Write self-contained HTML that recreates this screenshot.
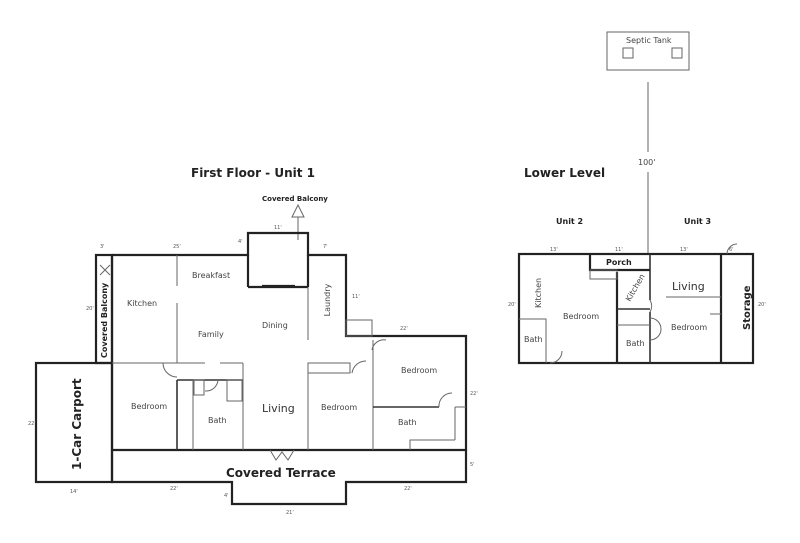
<!DOCTYPE html>
<html><head><style>
html,body{margin:0;padding:0;background:#fff;}
svg{display:block;font-family:"DejaVu Sans","Liberation Sans",sans-serif;}
.t{stroke:#222;stroke-width:2.2;fill:none;}
.m{stroke:#333;stroke-width:1.6;fill:none;}
.n{stroke:#666;stroke-width:1;fill:none;}
.s{font-size:8px;fill:#444;}
.d{font-size:5px;fill:#555;}
</style></head><body>
<svg width="800" height="543" viewBox="0 0 800 543">
<text x="191" y="177" font-size="12" font-weight="bold" fill="#222">First Floor - Unit 1</text>
<text x="524" y="177" font-size="12" font-weight="bold" fill="#222">Lower Level</text>
<text x="262" y="201" font-size="7" font-weight="bold" fill="#222">Covered Balcony</text>
<polygon points="298,205 292,217 304,217" class="n"/>
<line x1="298" y1="217" x2="298" y2="240" class="n"/>
<polyline class="t" points="112,255 248,255 248,233 308,233 308,255 346,255 346,336 466,336 466,450 112,450 112,255"/>
<line x1="248" y1="287" x2="308" y2="287" class="t"/>
<line x1="248" y1="255" x2="248" y2="287" class="t"/>
<line x1="308" y1="255" x2="308" y2="287" class="t"/>
<polyline class="t" points="112,450 112,482 232,482 232,504 346,504 346,482 466,482 466,450"/>
<rect x="36" y="363" width="76" height="119" class="t"/>
<rect x="96" y="255" width="16" height="108" class="t"/>
<line x1="177" y1="255" x2="177" y2="286" class="n"/>
<line x1="177" y1="303" x2="177" y2="363" class="n"/>
<line x1="112" y1="363" x2="205" y2="363" class="n"/>
<line x1="220" y1="363" x2="243" y2="363" class="n"/>
<line x1="177" y1="380" x2="177" y2="450" class="m"/>
<line x1="177" y1="380" x2="243" y2="380" class="m"/>
<line x1="193" y1="380" x2="193" y2="450" class="n"/>
<line x1="243" y1="363" x2="243" y2="450" class="n"/>
<rect x="194" y="380" width="10" height="15" class="n"/>
<rect x="227" y="380" width="15" height="21" class="n"/>
<path d="M163,363 A14,14 0 0 0 177,377" class="n"/>
<path d="M205,391 A12,12 0 0 0 218,380" class="n"/>
<line x1="308" y1="287" x2="308" y2="340" class="n"/>
<line x1="308" y1="363" x2="308" y2="450" class="n"/>
<rect x="308" y="363" width="42" height="10" class="n"/>
<path d="M352,373 A14,14 0 0 1 366,361" class="n"/>
<line x1="373" y1="340" x2="373" y2="450" class="n"/>
<path d="M372,350 A12,12 0 0 1 386,340" class="n"/>
<line x1="373" y1="407" x2="439" y2="407" class="m"/>
<line x1="455" y1="407" x2="466" y2="407" class="n"/>
<line x1="455" y1="407" x2="455" y2="440" class="n"/>
<polyline class="n" points="410,450 410,440 455,440"/>
<path d="M439,407 A13,13 0 0 1 452,393" class="n"/>
<rect x="346" y="320" width="26" height="16" class="n"/>
<path d="M270,450 L276,460 L282,452 L288,460 L294,450" class="n"/>
<line x1="262" y1="286" x2="295" y2="286" class="t"/>
<path d="M100,265 L110,275 M100,275 L110,265" class="n"/>
<text x="127" y="306" class="s">Kitchen</text>
<text x="192" y="278" class="s">Breakfast</text>
<text x="198" y="337" class="s">Family</text>
<text x="262" y="328" class="s">Dining</text>
<text x="330" y="300" class="s" text-anchor="middle" transform="rotate(-90 330 300)">Laundry</text>
<text x="131" y="409" class="s">Bedroom</text>
<text x="208" y="423" class="s">Bath</text>
<text x="262" y="412" font-size="11" fill="#333">Living</text>
<text x="321" y="410" class="s">Bedroom</text>
<text x="401" y="373" class="s">Bedroom</text>
<text x="398" y="425" class="s">Bath</text>
<text x="226" y="477" font-size="12" font-weight="bold" fill="#222">Covered Terrace</text>
<text x="107" y="358" font-size="8" font-weight="bold" fill="#222" transform="rotate(-90 107 358)">Covered Balcony</text>
<text x="81" y="470" font-size="12" font-weight="bold" fill="#222" transform="rotate(-90 81 470)">1-Car Carport</text>
<text x="100" y="248" class="d">3'</text>
<text x="173" y="248" class="d">25'</text>
<text x="238" y="243" class="d">4'</text>
<text x="274" y="229" class="d">11'</text>
<text x="323" y="248" class="d">7'</text>
<text x="400" y="330" class="d">22'</text>
<text x="70" y="493" class="d">14'</text>
<text x="170" y="490" class="d">22'</text>
<text x="404" y="490" class="d">22'</text>
<text x="286" y="514" class="d">21'</text>
<text x="224" y="497" class="d">4'</text>
<text x="86" y="310" class="d">20'</text>
<text x="28" y="425" class="d">22'</text>
<text x="352" y="298" class="d">11'</text>
<text x="470" y="395" class="d">22'</text>
<text x="470" y="466" class="d">5'</text>
<rect x="607" y="32" width="82" height="38" class="n"/>
<text x="626" y="43" class="s">Septic Tank</text>
<rect x="623" y="48" width="10" height="10" class="n"/>
<rect x="672" y="48" width="10" height="10" class="n"/>
<line x1="648" y1="82" x2="648" y2="152" class="n"/>
<text x="638" y="165" class="s">100'</text>
<line x1="648" y1="172" x2="648" y2="254" class="n"/>
<text x="556" y="224" font-size="8" font-weight="bold" fill="#222">Unit 2</text>
<text x="684" y="224" font-size="8" font-weight="bold" fill="#222">Unit 3</text>
<rect x="519" y="254" width="234" height="109" class="t"/>
<line x1="617" y1="272" x2="617" y2="363" class="t"/>
<line x1="650" y1="254" x2="650" y2="300" class="m"/>
<line x1="650" y1="312" x2="650" y2="363" class="m"/>
<line x1="721" y1="254" x2="721" y2="363" class="t"/>
<polyline class="t" points="590,254 590,270 650,270"/>
<rect x="590" y="270" width="27" height="9" class="n"/>
<line x1="617" y1="309" x2="650" y2="309" class="m"/>
<line x1="617" y1="325" x2="650" y2="325" class="n"/>
<line x1="666" y1="297" x2="721" y2="297" class="n"/>
<line x1="721" y1="314" x2="710" y2="314" class="n"/>
<polyline class="n" points="519,319 546,319 546,363"/>
<path d="M550,363 A12,12 0 0 0 562,351" class="n"/>
<path d="M650,300 A12,12 0 0 1 650,312 M650,318 A10,10 0 0 1 650,340" class="n"/>
<path d="M727,254 A10,10 0 0 1 737,244" class="n"/>
<text x="606" y="265" font-size="8" font-weight="bold" fill="#222">Porch</text>
<text x="563" y="319" class="s">Bedroom</text>
<text x="524" y="342" class="s">Bath</text>
<text x="626" y="346" class="s">Bath</text>
<text x="672" y="290" font-size="11" fill="#333">Living</text>
<text x="671" y="330" class="s">Bedroom</text>
<text x="541" y="308" class="s" transform="rotate(-90 541 308)">Kitchen</text>
<text x="630" y="302" class="s" transform="rotate(-60 630 302)">Kitchen</text>
<text x="750" y="330" font-size="10" font-weight="bold" fill="#222" transform="rotate(-90 750 330)">Storage</text>
<text x="550" y="251" class="d">13'</text>
<text x="615" y="251" class="d">11'</text>
<text x="680" y="251" class="d">13'</text>
<text x="729" y="251" class="d">6'</text>
<text x="508" y="306" class="d">20'</text>
<text x="758" y="306" class="d">20'</text>
</svg>
</body></html>
